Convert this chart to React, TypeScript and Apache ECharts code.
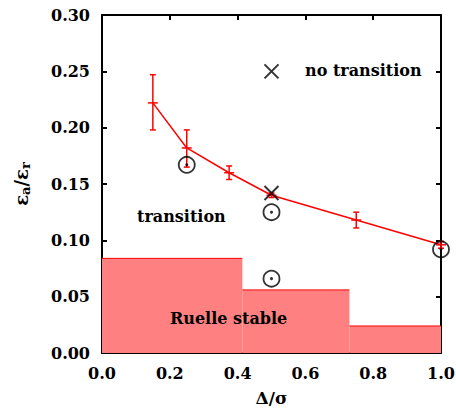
import React, { useEffect, useRef } from "react";
import * as echarts from "echarts";

// Red curve with error bars: [x, y, low, high]
const curveX = [0.15, 0.25, 0.375, 0.5, 0.75, 1.0];
const curveY = [0.222, 0.182, 0.16, 0.14, 0.118, 0.096];
const curveLow = [0.198, 0.165, 0.154, 0.138, 0.111, 0.093];
const curveHigh = [0.247, 0.198, 0.166, 0.142, 0.125, 0.099];

// "no transition" crosses
const crossPts: number[][] = [
  [0.5, 0.25],
  [0.5, 0.142],
];
// "transition" dotted circles
const circlePts: number[][] = [
  [0.25, 0.167],
  [0.5, 0.125],
  [0.5, 0.066],
  [1.0, 0.092],
];
// Ruelle stable steps: [x0, x1, height]
const stepStart = [0.0, 0.414, 0.73];
const stepEnd = [0.414, 0.73, 1.0];
const stepHeight = [0.084, 0.056, 0.024];

const FONT = "'DejaVu Serif', 'Liberation Serif', serif";

export default function App() {
  const ref = useRef<HTMLDivElement>(null);
  useEffect(() => {
    document.body.style.margin = "0";
    const chart = echarts.init(ref.current!, null, { renderer: "svg" });
    const labelStyle = {
      fontFamily: FONT,
      fontWeight: "bold" as const,
      fontSize: 16,
      color: "#000",
    };
    const axisCommon = {
      type: "value" as const,
      axisLine: { show: true, onZero: false, lineStyle: { color: "#000", width: 2 } },
      axisTick: { show: true, inside: true, length: 5, lineStyle: { color: "#000", width: 2 } },
      splitLine: { show: false },
    };
    const option: any = {
      animation: false,
      grid: {
        left: 102,
        right: 15,
        top: 15,
        bottom: 56,
        containLabel: false,
        outerBoundsMode: "none",
      },
      xAxis: [
        {
          ...axisCommon,
          position: "bottom",
          min: 0,
          max: 1,
          interval: 0.2,
          axisLabel: { ...labelStyle, margin: 12, formatter: (v: number) => v.toFixed(1) },
          name: "Δ/σ",
          nameLocation: "middle",
          nameGap: 36,
          nameTextStyle: { ...labelStyle, fontSize: 17 },
        },
        {
          ...axisCommon,
          position: "top",
          min: 0,
          max: 1,
          interval: 0.2,
          axisLabel: { show: false },
        },
      ],
      yAxis: [
        {
          ...axisCommon,
          position: "left",
          min: 0,
          max: 0.3,
          interval: 0.05,
          axisLabel: { ...labelStyle, margin: 12, formatter: (v: number) => v.toFixed(2) },
          name: "{e|ε}{s|a}{e|/ε}{s|r}",
          nameLocation: "middle",
          nameGap: 70,
          nameRotate: 90,
          nameTextStyle: {
            ...labelStyle,
            rich: {
              e: { fontFamily: FONT, fontWeight: "bold", fontSize: 18, color: "#000" },
              s: {
                fontFamily: FONT,
                fontWeight: "bold",
                fontSize: 13,
                color: "#000",
                padding: [9, 0, 0, 0],
              },
            },
          },
        },
        {
          ...axisCommon,
          position: "right",
          min: 0,
          max: 0.3,
          interval: 0.05,
          axisLabel: { show: false },
        },
      ],
      series: [
        {
          type: "custom",
          z: 1,
          data: stepStart.map((s, i) => [s, stepEnd[i], stepHeight[i]]),
          renderItem: (params: any, api: any) => {
            const p0 = api.coord([api.value(0), api.value(2)]);
            const p1 = api.coord([api.value(1), 0]);
            return {
              type: "group",
              children: [
                {
                  type: "rect",
                  shape: { x: p0[0], y: p0[1], width: p1[0] - p0[0], height: p1[1] - p0[1] },
                  style: { fill: "#ff8080" },
                },
                {
                  type: "line",
                  shape: { x1: p0[0], y1: p0[1], x2: p1[0], y2: p0[1] },
                  style: { stroke: "#ff0000", lineWidth: 1 },
                },
              ],
            };
          },
        },
        {
          type: "line",
          z: 3,
          data: curveX.map((x, i) => [x, curveY[i]]),
          symbol: "none",
          lineStyle: { color: "#ff0000", width: 1.5 },
        },
        {
          type: "custom",
          z: 3,
          data: curveX.map((x, i) => [x, curveY[i], curveLow[i], curveHigh[i]]),
          renderItem: (params: any, api: any) => {
            const c = api.coord([api.value(0), api.value(1)]);
            const lo = api.coord([api.value(0), api.value(2)]);
            const hi = api.coord([api.value(0), api.value(3)]);
            const st = { stroke: "#ff0000", lineWidth: 1.5 };
            return {
              type: "group",
              children: [
                { type: "line", shape: { x1: c[0], y1: lo[1], x2: c[0], y2: hi[1] }, style: st },
                { type: "line", shape: { x1: c[0] - 3, y1: lo[1], x2: c[0] + 3, y2: lo[1] }, style: st },
                { type: "line", shape: { x1: c[0] - 3, y1: hi[1], x2: c[0] + 3, y2: hi[1] }, style: st },
                { type: "line", shape: { x1: c[0] - 5, y1: c[1], x2: c[0] + 5, y2: c[1] }, style: st },
              ],
            };
          },
        },
        {
          type: "scatter",
          z: 4,
          data: crossPts,
          symbol: "path://M0,0L10,10M10,0L0,10",
          symbolSize: 14,
          itemStyle: { color: "none", borderColor: "#000", borderWidth: 2 },
        },
        {
          type: "scatter",
          z: 4,
          data: circlePts,
          symbol: "circle",
          symbolSize: 16,
          itemStyle: { color: "none", borderColor: "#000", borderWidth: 1.8 },
        },
        {
          type: "scatter",
          z: 4,
          data: circlePts,
          symbol: "circle",
          symbolSize: 3,
          itemStyle: { color: "#000" },
        },
      ],
      graphic: [
        {
          type: "text",
          z: 100,
          left: 305,
          top: 62,
          style: { text: "no transition", font: `bold 16px ${FONT}`, fill: "#000" },
        },
        {
          type: "text",
          z: 100,
          left: 137,
          top: 208,
          style: { text: "transition", font: `bold 16px ${FONT}`, fill: "#000" },
        },
        {
          type: "text",
          z: 100,
          left: 170,
          top: 310,
          style: { text: "Ruelle stable", font: `bold 16px ${FONT}`, fill: "#000" },
        },
      ],
    };
    chart.setOption(option);
    return () => chart.dispose();
  }, []);
  return <div ref={ref} style={{ width: 456, height: 409 }} />;
}
